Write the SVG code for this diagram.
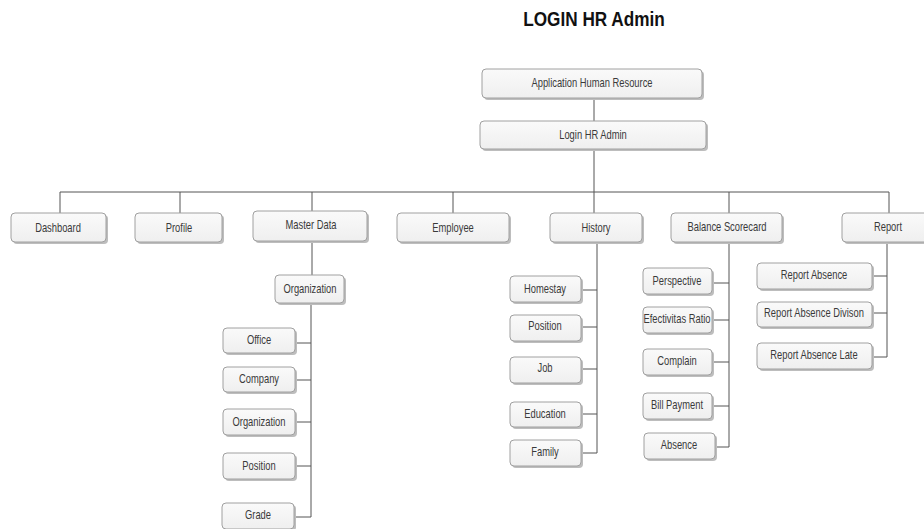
<svg xmlns="http://www.w3.org/2000/svg" width="924" height="529" viewBox="0 0 924 529">
<defs>
<linearGradient id="g" x1="0" y1="0" x2="0" y2="1">
<stop offset="0" stop-color="#fafafa"/>
<stop offset="1" stop-color="#efefef"/>
</linearGradient>
</defs>
<style>
.sh{fill:#bdbdbd}
.bx{fill:url(#g);stroke:#a0a0a0;stroke-width:1}
.t{font-family:"Liberation Sans",Arial,sans-serif;font-size:12px;fill:#3a3a3a;text-anchor:middle}
.ttl{font-family:"Liberation Sans",Arial,sans-serif;font-size:20px;font-weight:bold;fill:#111;text-anchor:middle}
.c{fill:none;stroke:#555;stroke-width:1}
</style>
<rect width="924" height="529" fill="#ffffff"/>
<text class="ttl" transform="translate(594,26) scale(0.86,1)">LOGIN HR Admin</text>
<g id="connectors">
<path class="c" d="M594 99V121M594 150V192M60 192H889M60 192V213M180 192V213M312 192V211M453 192V213M594 192V213M729 192V213M889 192V213"/>
<path class="c" d="M312 241V275M311 303V517M295 343H311M295 380H311M295 422H311M295 466H311M294 517H311"/>
<path class="c" d="M597 242V453M581 290H597M581 327H597M581 369H597M581 414H597M581 453H597"/>
<path class="c" d="M729 242V447M712 283H729M712 320H729M712 362H729M712 406H729M715 447H729"/>
<path class="c" d="M887 242V357M872 276H887M872 313H887M872 357H887"/>
</g>
<g id="n-app"><rect class="sh" x="484" y="71" width="220" height="29" rx="4"/><rect class="bx" x="482" y="69" width="220" height="29" rx="4"/><text class="t" transform="translate(592,87) scale(0.78,1)">Application Human Resource</text></g>
<g id="n-login"><rect class="sh" x="482" y="123" width="226" height="28" rx="4"/><rect class="bx" x="480" y="121" width="226" height="28" rx="4"/><text class="t" transform="translate(593,139) scale(0.78,1)">Login HR Admin</text></g>
<g id="n-dashboard"><rect class="sh" x="13" y="215" width="95" height="29" rx="4"/><rect class="bx" x="11" y="213" width="95" height="29" rx="4"/><text class="t" transform="translate(58,232) scale(0.78,1)">Dashboard</text></g>
<g id="n-profile"><rect class="sh" x="137" y="215" width="87" height="29" rx="4"/><rect class="bx" x="135" y="213" width="87" height="29" rx="4"/><text class="t" transform="translate(179,232) scale(0.78,1)">Profile</text></g>
<g id="n-master"><rect class="sh" x="255" y="213" width="114" height="30" rx="4"/><rect class="bx" x="253" y="211" width="114" height="30" rx="4"/><text class="t" transform="translate(311,229) scale(0.78,1)">Master Data</text></g>
<g id="n-employee"><rect class="sh" x="399" y="215" width="112" height="29" rx="4"/><rect class="bx" x="397" y="213" width="112" height="29" rx="4"/><text class="t" transform="translate(453,232) scale(0.78,1)">Employee</text></g>
<g id="n-history"><rect class="sh" x="552" y="215" width="92" height="29" rx="4"/><rect class="bx" x="550" y="213" width="92" height="29" rx="4"/><text class="t" transform="translate(596,232) scale(0.78,1)">History</text></g>
<g id="n-balance"><rect class="sh" x="673" y="215" width="111" height="29" rx="4"/><rect class="bx" x="671" y="213" width="111" height="29" rx="4"/><text class="t" transform="translate(727,231) scale(0.78,1)">Balance Scorecard</text></g>
<g id="n-report"><rect class="sh" x="844" y="215" width="100" height="29" rx="4"/><rect class="bx" x="842" y="213" width="100" height="29" rx="4"/><text class="t" transform="translate(888,231) scale(0.78,1)">Report</text></g>
<g id="n-organization"><rect class="sh" x="277" y="277" width="69" height="28" rx="4"/><rect class="bx" x="275" y="275" width="69" height="28" rx="4"/><text class="t" transform="translate(310,293) scale(0.78,1)">Organization</text></g>
<g id="n-office"><rect class="sh" x="225" y="330" width="72" height="25" rx="4"/><rect class="bx" x="223" y="328" width="72" height="25" rx="4"/><text class="t" transform="translate(259,344) scale(0.78,1)">Office</text></g>
<g id="n-company"><rect class="sh" x="225" y="369" width="72" height="25" rx="4"/><rect class="bx" x="223" y="367" width="72" height="25" rx="4"/><text class="t" transform="translate(259,383) scale(0.78,1)">Company</text></g>
<g id="n-organization2"><rect class="sh" x="225" y="411" width="72" height="26" rx="4"/><rect class="bx" x="223" y="409" width="72" height="26" rx="4"/><text class="t" transform="translate(259,426) scale(0.78,1)">Organization</text></g>
<g id="n-position"><rect class="sh" x="225" y="455" width="72" height="26" rx="4"/><rect class="bx" x="223" y="453" width="72" height="26" rx="4"/><text class="t" transform="translate(259,470) scale(0.78,1)">Position</text></g>
<g id="n-grade"><rect class="sh" x="224" y="505" width="72" height="26" rx="4"/><rect class="bx" x="222" y="503" width="72" height="26" rx="4"/><text class="t" transform="translate(258,519) scale(0.78,1)">Grade</text></g>
<g id="n-homestay"><rect class="sh" x="512" y="278" width="71" height="26" rx="4"/><rect class="bx" x="510" y="276" width="71" height="26" rx="4"/><text class="t" transform="translate(545,293) scale(0.78,1)">Homestay</text></g>
<g id="n-position2"><rect class="sh" x="512" y="317" width="71" height="26" rx="4"/><rect class="bx" x="510" y="315" width="71" height="26" rx="4"/><text class="t" transform="translate(545,330) scale(0.78,1)">Position</text></g>
<g id="n-job"><rect class="sh" x="512" y="359" width="71" height="26" rx="4"/><rect class="bx" x="510" y="357" width="71" height="26" rx="4"/><text class="t" transform="translate(545,372) scale(0.78,1)">Job</text></g>
<g id="n-education"><rect class="sh" x="512" y="404" width="71" height="25" rx="4"/><rect class="bx" x="510" y="402" width="71" height="25" rx="4"/><text class="t" transform="translate(545,418) scale(0.78,1)">Education</text></g>
<g id="n-family"><rect class="sh" x="512" y="442" width="71" height="26" rx="4"/><rect class="bx" x="510" y="440" width="71" height="26" rx="4"/><text class="t" transform="translate(545,456) scale(0.78,1)">Family</text></g>
<g id="n-perspective"><rect class="sh" x="645" y="270" width="69" height="26" rx="4"/><rect class="bx" x="643" y="268" width="69" height="26" rx="4"/><text class="t" transform="translate(677,285) scale(0.78,1)">Perspective</text></g>
<g id="n-efectivitas"><rect class="sh" x="645" y="309" width="69" height="26" rx="4"/><rect class="bx" x="643" y="307" width="69" height="26" rx="4"/><text class="t" transform="translate(677,323) scale(0.78,1)">Efectivitas Ratio</text></g>
<g id="n-complain"><rect class="sh" x="645" y="351" width="69" height="26" rx="4"/><rect class="bx" x="643" y="349" width="69" height="26" rx="4"/><text class="t" transform="translate(677,365) scale(0.78,1)">Complain</text></g>
<g id="n-bill"><rect class="sh" x="645" y="395" width="69" height="26" rx="4"/><rect class="bx" x="643" y="393" width="69" height="26" rx="4"/><text class="t" transform="translate(677,409) scale(0.78,1)">Bill Payment</text></g>
<g id="n-absence"><rect class="sh" x="646" y="435" width="71" height="26" rx="4"/><rect class="bx" x="644" y="433" width="71" height="26" rx="4"/><text class="t" transform="translate(679,449) scale(0.78,1)">Absence</text></g>
<g id="n-rabsence"><rect class="sh" x="759" y="265" width="115" height="26" rx="4"/><rect class="bx" x="757" y="263" width="115" height="26" rx="4"/><text class="t" transform="translate(814,279) scale(0.78,1)">Report Absence</text></g>
<g id="n-rdivison"><rect class="sh" x="759" y="304" width="115" height="25" rx="4"/><rect class="bx" x="757" y="302" width="115" height="25" rx="4"/><text class="t" transform="translate(814,317) scale(0.78,1)">Report Absence Divison</text></g>
<g id="n-rlate"><rect class="sh" x="759" y="345" width="115" height="26" rx="4"/><rect class="bx" x="757" y="343" width="115" height="26" rx="4"/><text class="t" transform="translate(814,359) scale(0.78,1)">Report Absence Late</text></g>
</svg>
